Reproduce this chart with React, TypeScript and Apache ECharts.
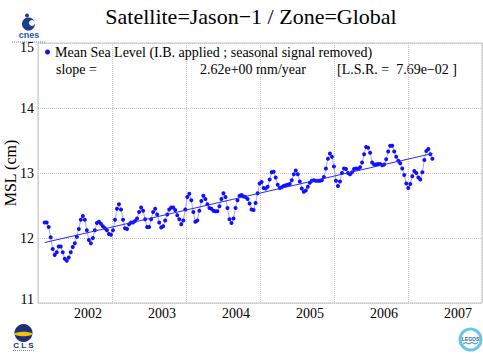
import React, { useEffect, useRef } from "react";
import * as echarts from "echarts";

const TITLE = "Satellite=Jason\u22121 / Zone=Global";
const SERIES_NAME = "Mean Sea Level (I.B. applied ; seasonal signal removed)";
const SLOPE_LABEL = "slope =";
const SLOPE_VALUE = "2.62e+00 mm/year";
const LSR_TEXT = "[L.S.R. =  7.69e\u221202 ]";
const Y_NAME = "MSL (cm)";

const X_MIN = 2001;
const X_MAX = 2007;
const X_LABELS = [2002, 2003, 2004, 2005, 2006, 2007];
const Y_MIN = 11;
const Y_MAX = 15;

// time of first 10-day cycle (decimal year) and cycle length (days)
const FIRST_CYCLE_YEAR = 2001.09;
const CYCLE_DAYS = 9.9156;

// mean sea level per cycle (cm)
const msl = [
  12.24, 12.24, 12.17, 12.01, 11.83, 11.74, 11.78, 11.87, 11.87, 11.78,
  11.68, 11.65, 11.7, 11.78, 11.86, 11.92, 12.02, 12.14, 12.28, 12.34,
  12.28, 12.12, 11.97, 11.92, 12.0, 12.12, 12.23, 12.25, 12.22, 12.18,
  12.15, 12.12, 12.06, 12.05, 12.12, 12.28, 12.45, 12.52, 12.44, 12.28,
  12.15, 12.14, 12.21, 12.24, 12.24, 12.26, 12.3, 12.4, 12.47, 12.42,
  12.29, 12.17, 12.17, 12.29, 12.4, 12.45, 12.36, 12.24, 12.16, 12.18,
  12.27, 12.36, 12.44, 12.47, 12.47, 12.43, 12.35, 12.29, 12.21, 12.27,
  12.44, 12.63, 12.68, 12.58, 12.4, 12.25, 12.27, 12.42, 12.57, 12.65,
  12.6, 12.52, 12.46, 12.45, 12.42, 12.41, 12.41, 12.49, 12.6, 12.69,
  12.63, 12.46, 12.29, 12.23, 12.3, 12.46, 12.58, 12.65, 12.66, 12.64,
  12.63, 12.6, 12.53, 12.44, 12.43, 12.54, 12.69, 12.84, 12.86, 12.77,
  12.76, 12.79, 12.9, 13.01, 13.02, 12.93, 12.82, 12.77, 12.78, 12.8,
  12.81, 12.82, 12.83, 12.89, 12.98, 13.04, 12.98, 12.87, 12.76, 12.71,
  12.73, 12.79, 12.85, 12.88, 12.89, 12.88, 12.88, 12.88, 12.89, 12.94,
  13.07, 13.22, 13.3, 13.25, 13.1, 12.88, 12.8, 12.87, 13.0, 13.07,
  13.06, 13.0, 12.98, 13.01, 13.06, 13.07, 13.06, 13.09, 13.16, 13.29,
  13.4, 13.39, 13.31, 13.16, 13.13, 13.13, 13.14, 13.14, 13.12, 13.13,
  13.21, 13.33, 13.42, 13.42, 13.33, 13.25, 13.19, 13.15, 13.07, 12.97,
  12.84, 12.77, 12.83, 12.95, 13.03, 13.0, 12.93, 12.9, 13.01, 13.2,
  13.34, 13.37, 13.29, 13.22,
];

// linear trend end points (decimal year, cm)
const trendYears = [2001.09, 2006.33];
const trendValues = [11.93, 13.3];

// year labels sit left of the year grid lines in the reference
const LABEL_SHIFT = 0.324;

const SERIF = "'Liberation Serif', 'Times New Roman', serif";
const SANS = "'Liberation Sans', Arial, sans-serif";

export default function App() {
  const ref = useRef<HTMLDivElement>(null);
  useEffect(() => {
    document.body.style.margin = "0";
    const chart = echarts.init(ref.current!, null, { renderer: "svg" });
    const pts = msl.map((v, i) => [FIRST_CYCLE_YEAR + (i * CYCLE_DAYS) / 365.25, v]);
    const trend = trendYears.map((t, i) => [t, trendValues[i]]);
    chart.setOption({
      animation: false,
      backgroundColor: "#ffffff",
      title: {
        text: TITLE,
        left: 246,
        top: 0,
        textAlign: "center",
        textStyle: { fontFamily: SERIF, fontSize: 22, fontWeight: "normal", color: "#000" },
      },
      legend: {
        left: 45,
        top: 45,
        padding: 0,
        itemWidth: 5,
        itemHeight: 5,
        data: [{ name: SERIES_NAME, icon: "circle", itemStyle: { color: "#1010ff" } }],
        textStyle: { fontFamily: SERIF, fontSize: 14, color: "#000" },
      },
      grid: {
        left: 38,
        right: 1,
        top: 43,
        bottom: 51,
        show: true,
        borderColor: "#c4c4c4",
        borderWidth: 1,
        containLabel: false,
        outerBoundsMode: "none",
      },
      xAxis: [
        {
          type: "value",
          min: X_MIN,
          max: X_MAX,
          interval: 1,
          axisLine: { show: false },
          axisTick: { show: false },
          axisLabel: { show: false },
          splitLine: { show: true, lineStyle: { type: "dotted", color: "#c4c4c4", width: 1 } },
        },
        {
          type: "value",
          position: "bottom",
          min: X_MIN + LABEL_SHIFT,
          max: X_MAX + LABEL_SHIFT,
          axisLine: { show: false },
          axisTick: { show: false },
          splitLine: { show: false },
          axisLabel: {
            customValues: X_LABELS,
            fontFamily: SERIF,
            fontSize: 14,
            color: "#000",
            margin: 3,
            formatter: (v: number) => String(Math.round(v)),
          },
        },
      ],
      yAxis: {
        type: "value",
        min: Y_MIN,
        max: Y_MAX,
        interval: 1,
        name: Y_NAME,
        nameLocation: "middle",
        nameGap: 20,
        nameMoveOverlap: false,
        nameTextStyle: { fontFamily: SERIF, fontSize: 16, color: "#000" },
        axisLine: { show: false },
        axisTick: { show: false },
        splitLine: { show: true, lineStyle: { type: "dotted", color: "#c4c4c4", width: 1 } },
        axisLabel: {
          fontFamily: SERIF,
          fontSize: 14,
          color: "#000",
          margin: 4,
          formatter: (v: number) =>
            v === Y_MAX ? `{top|${v}}` : v === Y_MIN ? `{bot|${v}}` : `${v}`,
          rich: {
            top: { fontFamily: SERIF, fontSize: 14, color: "#000", padding: [8, 0, 0, 0] },
            bot: { fontFamily: SERIF, fontSize: 14, color: "#000", padding: [0, 0, 8, 0] },
          },
        },
      },
      series: [
        {
          type: "line",
          name: SERIES_NAME,
          xAxisIndex: 0,
          data: pts,
          symbol: "circle",
          symbolSize: 4,
          itemStyle: { color: "#1010ff" },
          lineStyle: { color: "#a8a8ff", width: 1 },
          z: 3,
        },
        {
          type: "line",
          name: "trend",
          xAxisIndex: 0,
          data: trend,
          symbol: "none",
          lineStyle: { color: "#2a2aff", width: 1 },
          z: 4,
        },
      ],
      graphic: [
        { type: "text", left: 56, top: 62, style: { text: SLOPE_LABEL, font: `14px ${SERIF}`, fill: "#000" } },
        { type: "text", left: 200, top: 62, style: { text: SLOPE_VALUE, font: `14px ${SERIF}`, fill: "#000" } },
        { type: "text", left: 337, top: 62, style: { text: LSR_TEXT, font: `14px ${SERIF}`, fill: "#000" } },
        // CNES logo
        { type: "circle", shape: { cx: 28.5, cy: 24, r: 6.5 }, style: { fill: "#1c3d8f" } },
        { type: "circle", shape: { cx: 32, cy: 23, r: 3 }, style: { fill: "#ffffff" } },
        { type: "circle", shape: { cx: 27, cy: 15.5, r: 2 }, style: { fill: "#1c3d8f" } },
        { type: "text", x: 29, y: 35, style: { text: "cnes", font: `bold 9px ${SANS}`, fill: "#2456a6", align: "center", verticalAlign: "middle" } },
        { type: "line", shape: { x1: 12, y1: 42, x2: 46, y2: 42 }, style: { stroke: "#6a7fb8", lineWidth: 1, lineDash: [1, 1] } },
        // CLS logo
        { type: "circle", shape: { cx: 23.5, cy: 333, r: 9 }, style: { fill: "#1d2f78" } },
        { type: "ellipse", shape: { cx: 23.5, cy: 334, rx: 9, ry: 2.2 }, style: { fill: "#f3c400" } },
        { type: "text", x: 23.5, y: 345.5, style: { text: "C L S", font: `bold 8px ${SANS}`, fill: "#1d2f78", align: "center", verticalAlign: "middle" } },
        { type: "line", shape: { x1: 13, y1: 350.5, x2: 35, y2: 350.5 }, style: { stroke: "#8a93b8", lineWidth: 1, lineDash: [1, 1] } },
        // LEGOS logo
        { type: "circle", shape: { cx: 470.5, cy: 339.5, r: 12 }, style: { fill: "#6cc3ea" } },
        { type: "circle", shape: { cx: 470.5, cy: 339.5, r: 9 }, style: { fill: "#ffffff" } },
        { type: "text", x: 470.5, y: 339, style: { text: "LEGOS", font: `bold 5px ${SANS}`, fill: "#1f5fa8", align: "center", verticalAlign: "middle" } },
        { type: "polyline", shape: { points: [[463, 344], [466, 342.5], [469, 344], [472, 342.5], [475, 344], [478, 342.5]] }, style: { stroke: "#2f7fc8", lineWidth: 1, fill: "none" } },
      ],
    });
    return () => chart.dispose();
  }, []);
  return <div ref={ref} style={{ width: 483, height: 354 }} />;
}
